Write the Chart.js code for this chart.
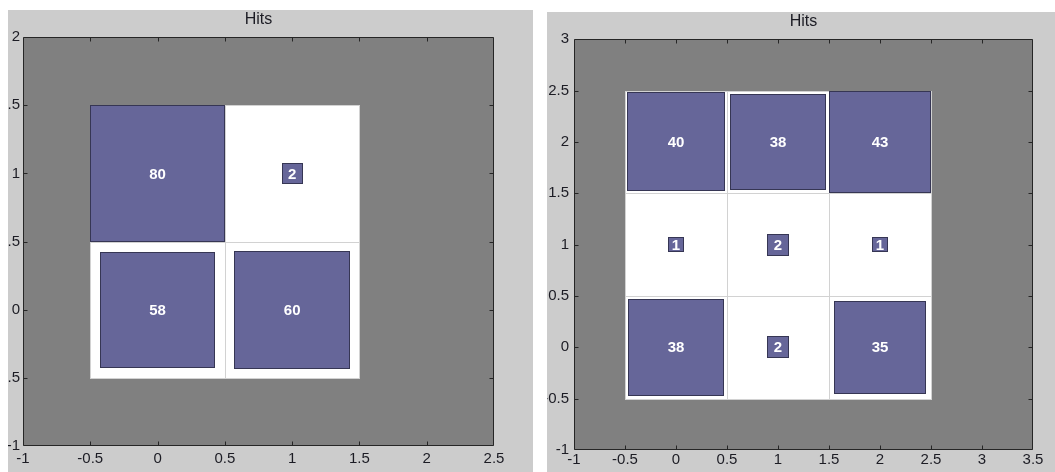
<!DOCTYPE html>
<html>
<head>
<meta charset="utf-8">
<script src="https://cdn.jsdelivr.net/npm/chart.js@4/dist/chart.umd.min.js"></script>
<style>
  html, body { margin: 0; padding: 0; background: #fff; }
  body { width: 1055px; height: 472px; position: relative; overflow: hidden; }
  .panel { position: absolute; background: #cccccc; overflow: hidden; }
  .panel canvas { position: absolute; top: 0; left: -20px; }
  #leftPanel { left: 8px; top: 10px; width: 525px; height: 462px; }
  #rightPanel { left: 547px; top: 12px; width: 508px; height: 460px; }
</style>
</head>
<body>
<div class="panel" id="leftPanel"><canvas id="leftChart" width="545" height="462"></canvas></div>
<div class="panel" id="rightPanel"><canvas id="rightChart" width="528" height="460"></canvas></div>
<script>
// left map: 2x2 neurons
const leftCellX = [0, 1, 0, 1];
const leftCellY = [0, 0, 1, 1];
const leftHits = [58, 60, 80, 2];
const leftXTicks = [-1, -0.5, 0, 0.5, 1, 1.5, 2, 2.5];
const leftYTicks = [-1, -0.5, 0, 0.5, 1, 1.5, 2];

// right map: 3x3 neurons
const rightCellX = [0, 1, 2, 0, 1, 2, 0, 1, 2];
const rightCellY = [0, 0, 0, 1, 1, 1, 2, 2, 2];
const rightHits = [38, 2, 35, 1, 2, 1, 40, 38, 43];
const rightXTicks = [-1, -0.5, 0, 0.5, 1, 1.5, 2, 2.5, 3, 3.5];
const rightYTicks = [-1, -0.5, 0, 0.5, 1, 1.5, 2, 2.5, 3];

const FONT = "'Liberation Sans', Arial, sans-serif";
const TEXT = "#1c1c24";

const px = v => Math.round(v) + 0.5;

// draws the gray axes background, the white neuron cells and the hit squares
const hitsPlugin = {
  id: "hits",
  beforeDatasetsDraw(chart) {
    const { ctx, chartArea: a, scales: { x, y } } = chart;
    const pts = chart.data.datasets[0].data;
    const max = Math.max(...pts.map(p => p.hits));
    ctx.save();
    ctx.fillStyle = "#808080";
    ctx.fillRect(a.left, a.top, a.right - a.left, a.bottom - a.top);

    ctx.lineWidth = 1;
    ctx.strokeStyle = "#d2d2d2";
    ctx.fillStyle = "#ffffff";
    pts.forEach(p => {
      const l = Math.round(x.getPixelForValue(p.x - 0.5));
      const r = Math.round(x.getPixelForValue(p.x + 0.5));
      const t = Math.round(y.getPixelForValue(p.y + 0.5));
      const b = Math.round(y.getPixelForValue(p.y - 0.5));
      ctx.fillRect(l, t, r - l, b - t);
      ctx.strokeRect(l + 0.5, t + 0.5, r - l, b - t);
    });

    pts.forEach(p => {
      const s = Math.sqrt(p.hits / max) / 2;
      const l = Math.round(x.getPixelForValue(p.x - s));
      const r = Math.round(x.getPixelForValue(p.x + s));
      const t = Math.round(y.getPixelForValue(p.y + s));
      const b = Math.round(y.getPixelForValue(p.y - s));
      ctx.fillStyle = "#666699";
      ctx.fillRect(l, t, r - l, b - t);
      ctx.strokeStyle = "#363654";
      ctx.strokeRect(l + 0.5, t + 0.5, r - l - 1, b - t - 1);
    });

    ctx.fillStyle = "#ffffff";
    ctx.font = "bold 15px " + FONT;
    ctx.textAlign = "center";
    ctx.textBaseline = "middle";
    pts.forEach(p => {
      ctx.fillText(String(p.hits), x.getPixelForValue(p.x), y.getPixelForValue(p.y) + 1);
    });
    ctx.restore();
  },
  afterDraw(chart) {
    const { ctx, chartArea: a, scales: { x, y } } = chart;
    ctx.save();
    ctx.strokeStyle = "#262626";
    ctx.lineWidth = 1;
    ctx.beginPath();
    const L = px(a.left), R = px(a.right - 1), T = px(a.top), B = px(a.bottom - 1);
    ctx.rect(L, T, R - L, B - T);
    const tl = 4;
    x.ticks.forEach((t, i) => {
      if (i === 0 || i === x.ticks.length - 1) return;
      const xp = px(x.getPixelForValue(t.value));
      ctx.moveTo(xp, B); ctx.lineTo(xp, B - tl);
      ctx.moveTo(xp, T); ctx.lineTo(xp, T + tl);
    });
    y.ticks.forEach((t, i) => {
      if (i === 0 || i === y.ticks.length - 1) return;
      const yp = px(y.getPixelForValue(t.value));
      ctx.moveTo(L, yp); ctx.lineTo(L + tl, yp);
      ctx.moveTo(R, yp); ctx.lineTo(R - tl, yp);
    });
    ctx.stroke();
    ctx.restore();
  }
};

function axis(min, max, ticks, size, pad, horizontal) {
  return {
    type: "linear",
    min: min,
    max: max,
    afterBuildTicks: s => { s.ticks = ticks.map(v => ({ value: v })); },
    afterFit: s => { if (horizontal) s.height = size; else s.width = size; },
    grid: { display: false, drawTicks: false },
    border: { display: false },
    ticks: {
      autoSkip: false,
      maxRotation: 0,
      padding: pad,
      color: TEXT,
      font: { family: FONT, size: 15 },
      callback: v => String(v)
    }
  };
}

function makeChart(id, cx, cy, hits, xt, yt, yWidth, xHeight, rightPad, xPad, yPad) {
  return new Chart(document.getElementById(id), {
    type: "scatter",
    data: {
      datasets: [{
        data: hits.map((h, i) => ({ x: cx[i], y: cy[i], hits: h })),
        pointRadius: 0
      }]
    },
    options: {
      responsive: false,
      animation: false,
      events: [],
      layout: { padding: { right: rightPad } },
      plugins: {
        legend: { display: false },
        tooltip: { enabled: false },
        title: {
          display: true,
          text: "Hits",
          fullSize: false,
          color: TEXT,
          font: { family: FONT, size: 16, weight: "normal" },
          padding: { top: 0, bottom: 8 }
        }
      },
      scales: {
        x: axis(xt[0], xt[xt.length - 1], xt, xHeight, xPad, true),
        y: axis(yt[0], yt[yt.length - 1], yt, yWidth, yPad, false)
      }
    },
    plugins: [hitsPlugin]
  });
}

makeChart("leftChart", leftCellX, leftCellY, leftHits, leftXTicks, leftYTicks, 35, 26, 39, 4, 3);
makeChart("rightChart", rightCellX, rightCellY, rightHits, rightXTicks, rightYTicks, 47, 22, 22, 1, 5);
</script>
</body>
</html>
